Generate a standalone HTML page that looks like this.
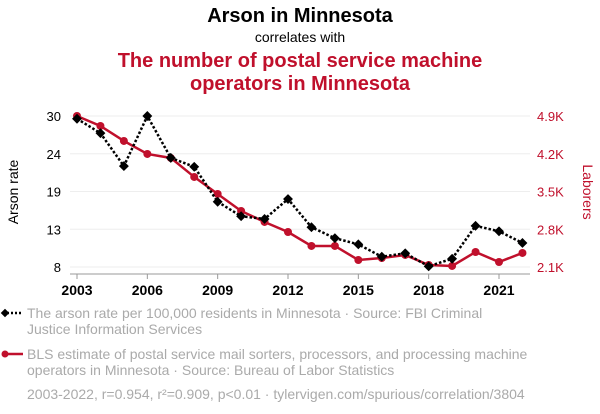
<!DOCTYPE html>
<html><head><meta charset="utf-8"><style>
body{margin:0;background:#fff;width:600px;height:414px;overflow:hidden;font-family:"Liberation Sans",sans-serif}
svg{display:block}
</style></head><body>
<svg width="600" height="414">
<text x="300" y="22" text-anchor="middle" font-size="20" font-weight="bold" fill="#000">Arson in Minnesota</text>
<text x="300" y="42" text-anchor="middle" font-size="14" fill="#000">correlates with</text>
<text x="300" y="67" text-anchor="middle" font-size="20" font-weight="bold" fill="#c0102c">The number of postal service machine</text>
<text x="300" y="90" text-anchor="middle" font-size="20" font-weight="bold" fill="#c0102c">operators in Minnesota</text>
<g id="grid"></g>
<g id="axes"></g>
<g id="series"></g>
<text transform="translate(18,192) rotate(-90)" text-anchor="middle" font-size="14" fill="#000">Arson rate</text>
<text transform="translate(583,192) rotate(90)" text-anchor="middle" font-size="14" fill="#c0102c">Laborers</text>
<g>
<line x1="3" y1="313" x2="23" y2="313" stroke="#000" stroke-width="2.5" stroke-dasharray="2,2"/>
<rect x="2" y="310" width="6" height="6" transform="rotate(45 5 313)" fill="#000"/>
<text x="27" y="318" font-size="14" fill="#aaa">The arson rate per 100,000 residents in Minnesota · Source: FBI Criminal</text>
<text x="27" y="334" font-size="14" fill="#aaa">Justice Information Services</text>
</g>
<g>
<line x1="3" y1="354" x2="23" y2="354" stroke="#c0102c" stroke-width="2.5"/>
<circle cx="5" cy="354" r="3.5" fill="#c0102c"/>
<text x="27" y="359" font-size="14" fill="#aaa">BLS estimate of postal service mail sorters, processors, and processing machine</text>
<text x="27" y="375" font-size="14" fill="#aaa">operators in Minnesota · Source: Bureau of Labor Statistics</text>
</g>
<text x="27" y="399" font-size="14" fill="#aaa">2003-2022, r=0.954, r²=0.909, p&lt;0.01 · tylervigen.com/spurious/correlation/3804</text>
</svg>
<script>
const years=[2003,2004,2005,2006,2007,2008,2009,2010,2011,2012,2013,2014,2015,2016,2017,2018,2019,2020,2021,2022];
const arson=[29.6,27.5,22.7,30,23.9,22.6,17.5,15.4,15.0,17.9,13.8,12.2,11.3,9.5,10.0,8.1,9.2,14.0,13.2,11.5];
const laborers=[4900,4715,4437,4196,4122,3770,3454,3139,2935,2749,2490,2490,2230,2267,2323,2137,2119,2378,2193,2360];
const xTicks=[2003,2006,2009,2012,2015,2018,2021];
const leftTicks=[8,13.5,19,24.5,30];
const leftLabels=["8","13","19","24","30"];
const rightTicks=[2100,2800,3500,4200,4900];
const rightLabels=["2.1K","2.8K","3.5K","4.2K","4.9K"];
const NS="http://www.w3.org/2000/svg";
const x=v=>77+(v-2003)*(499-77)/18;
const yl=v=>267-(v-8)*(151/22);
const yr=v=>267-(v-2100)*(151/2800);
function mk(t,a,p){const e=document.createElementNS(NS,t);for(const k in a)e.setAttribute(k,a[k]);if(p)p.appendChild(e);return e;}
const grid=document.getElementById('grid'),axes=document.getElementById('axes'),ser=document.getElementById('series');
leftTicks.forEach((t,i)=>{
 const g=mk('line',{x1:70,x2:530,y1:yl(t),y2:yl(t),stroke:'#eee','stroke-width':1},grid);
 
 
 const l=mk('text',{x:61,y:yl(t)+5,'text-anchor':'end','font-size':13,fill:'#000'},axes);l.textContent=leftLabels[i];
 
 
});
rightTicks.forEach((t,i)=>{
 const l=mk('text',{x:537,y:yr(t)+5,'font-size':13,fill:'#c0102c'},axes);l.textContent=rightLabels[i];
 
 
});
const ax=mk('line',{x1:70,x2:530,y1:274,y2:274,stroke:'#999','stroke-width':1},axes);


xTicks.forEach(t=>{
 mk('line',{x1:x(t),x2:x(t),y1:274,y2:279,stroke:'#999'},axes);
 const l=mk('text',{x:x(t),y:295,'text-anchor':'middle','font-size':14,'font-weight':'bold',fill:'#000'},axes);l.textContent=t;
 
 
});
const rl=mk('polyline',{points:years.map((y,i)=>x(y)+','+yr(laborers[i])).join(' '),fill:'none',stroke:'#c0102c','stroke-width':2.5},ser);


years.forEach((y,i)=>{const c=mk('circle',{cx:x(y),cy:yr(laborers[i]),r:4,fill:'#c0102c'},ser);
 
 });
const al=mk('polyline',{points:years.map((y,i)=>x(y)+','+yl(arson[i])).join(' '),fill:'none',stroke:'#000','stroke-width':2.5,'stroke-dasharray':'2.5,2'},ser);


years.forEach((y,i)=>{const cx=x(y),cy=yl(arson[i]);const r=mk('rect',{x:cx-3.5,y:cy-3.5,width:7,height:7,fill:'#000',transform:`rotate(45 ${cx} ${cy})`},ser);
 
 });
</script>
</body></html>
